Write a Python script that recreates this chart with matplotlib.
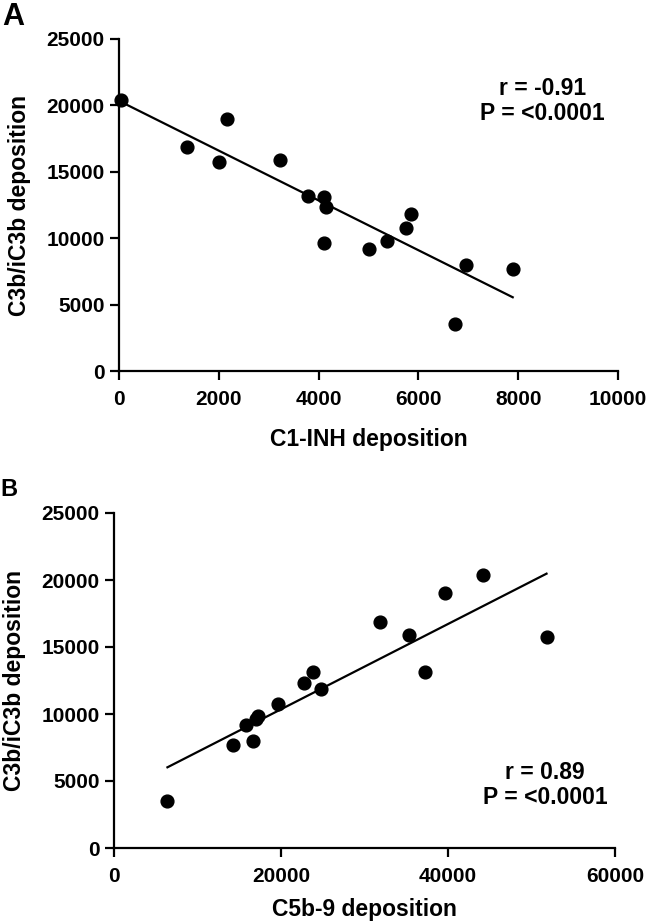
import numpy as np
import matplotlib
matplotlib.use("Agg")
import matplotlib.pyplot as plt

plt.rcParams['font.family'] = ['Liberation Sans', 'DejaVu Sans']
plt.rcParams['font.weight'] = 'bold'
plt.rcParams['axes.labelweight'] = 'bold'

# panel A: C1-INH deposition vs C3b/iC3b deposition
c1inh = [40, 1370, 2010, 2170, 3230, 3790, 4100, 4150, 4100, 5010, 5380, 5760, 5860, 6740, 6950, 7890]
c3b_a = [20400, 16900, 15750, 19000, 15900, 13150, 13100, 12350, 9650, 9200, 9800, 10750, 11850, 3530, 8000, 7650]

# panel B: C5b-9 deposition vs C3b/iC3b deposition
c5b9 = [6400, 14300, 15800, 16700, 17000, 17300, 19700, 22800, 23850, 24750, 31850, 35300, 37250, 39650, 44150, 51800]
c3b_b = [3500, 7650, 9200, 8000, 9650, 9850, 10750, 12350, 13150, 11850, 16900, 15900, 13100, 19000, 20400, 15750]

xticks_a = [0, 2000, 4000, 6000, 8000, 10000]
xticks_b = [0, 20000, 40000, 60000]
yticks = [0, 5000, 10000, 15000, 20000, 25000]

fig = plt.figure(figsize=(6.5, 9.23), dpi=100)
axA = fig.add_axes([119/650, 1-371/923, 499/650, 332/923])
axB = fig.add_axes([114/650, 1-848/923, 501/650, 335/923])


def style(ax, x, y, xt, xlab, stats, pos, xpad):
    ax.plot(x, y, 'o', color='black', markersize=9.2, clip_on=False, zorder=3)
    k, b = np.polyfit(x, y, 1)
    xs = np.array([min(x), max(x)])
    ax.plot(xs, k*xs + b, color='black', lw=1.6, zorder=2)
    ax.set_xlim(xt[0], xt[-1])
    ax.set_ylim(0, 25000)
    ax.set_xticks(xt)
    ax.set_yticks(yticks)
    for s in ['top', 'right']:
        ax.spines[s].set_visible(False)
    for s in ['left', 'bottom']:
        ax.spines[s].set_linewidth(1.6)
    ax.tick_params(width=1.6, length=6.5, labelsize=15, pad=4)
    ax.tick_params(axis='x', pad=7)
    ax.set_xlabel(xlab, fontsize=16.5, labelpad=xpad)
    ax.set_ylabel('C3b/iC3b deposition', fontsize=16.5, labelpad=11)
    ax.text(pos[0], pos[1], stats, transform=ax.transAxes, ha='center', va='center',
            fontsize=16.5, fontweight='bold', linespacing=1.1)


style(axA, c1inh, c3b_a, xticks_a, 'C1-INH deposition', 'r = -0.91\nP = <0.0001', (0.848, 0.813), 14)
style(axB, c5b9, c3b_b, xticks_b, 'C5b-9 deposition', 'r = 0.89\nP = <0.0001', (0.86, 0.188), 9)

fig.text(0.003, 1-2/923, 'A', fontsize=22, fontweight='bold', ha='left', va='top')
fig.text(0.0, 1-478/923, 'B', fontsize=17, fontweight='bold', ha='left', va='top')

fig.savefig('out.png', dpi=100)
